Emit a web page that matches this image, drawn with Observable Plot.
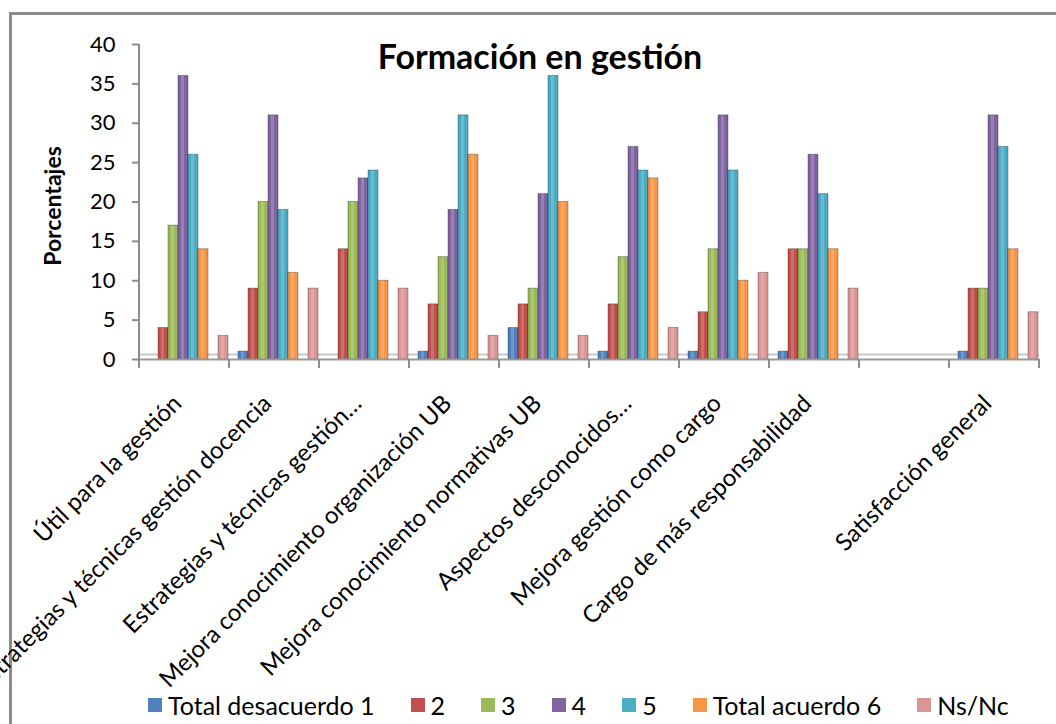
<!DOCTYPE html>
<html>
<head>
<meta charset="utf-8">
<script src="https://cdn.jsdelivr.net/npm/d3@7"></script>
<script src="https://cdn.jsdelivr.net/npm/@observablehq/plot@0.6"></script>
<style>
  html, body { margin: 0; padding: 0; background: #fff; }
  #wrap { position: relative; width: 1056px; height: 724px; overflow: hidden; font-family: Lato, "Open Sans", sans-serif; color: #000; }
  #border { position: absolute; left: 9px; top: 12px; width: 1200px; height: 900px; border: 3px solid #8c8c8c; box-sizing: border-box; }
  #chart { position: absolute; left: 0; top: 0; }
  #title { position: absolute; left: 0; width: 1080px; top: 34px; text-align: center; font-weight: 700; font-size: 34px; line-height: 44px; }
  #ylabel { position: absolute; left: 52px; top: 206px; transform: translate(-50%, -50%) rotate(-90deg); font-weight: 700; font-size: 23px; white-space: nowrap; }
  #legend { position: absolute; left: 148px; top: 689px; width: max-content; display: flex; flex-wrap: nowrap; align-items: center; font-size: 25px; line-height: 32px; white-space: nowrap; }
  #legend .item { display: flex; align-items: center; margin-right: 36px; flex-shrink: 0; }
  #legend .item:last-child { margin-right: 0; }
  #legend .sw { width: 14px; height: 14px; margin-right: 6px; flex-shrink: 0; }
</style>
</head>
<body>
<div id="wrap">
  <div id="border"></div>
  <div id="chart"></div>
  <div id="title">Formación en gestión</div>
  <div id="ylabel">Porcentajes</div>
  <div id="legend"></div>
</div>
<script>
// ---- Data ----
const categories = [
  "Útil para la gestión",
  "Estrategias y técnicas gestión docencia",
  "Estrategias y técnicas gestión…",
  "Mejora conocimiento organización UB",
  "Mejora conocimiento normativas UB",
  "Aspectos desconocidos…",
  "Mejora gestión como cargo",
  "Cargo de más responsabilidad",
  "",
  "Satisfacción general"
];
const series = ["Total desacuerdo 1", "2", "3", "4", "5", "Total acuerdo 6", "Ns/Nc"];
const colors = ["#4F81BD", "#C0504D", "#9BBB59", "#8064A2", "#4BACC6", "#F79646", "#D99694"];

const totalDesacuerdo1 = [0, 1, 0, 1, 4, 1, 1, 1, null, 1];
const valores2         = [4, 9, 14, 7, 7, 7, 6, 14, null, 9];
const valores3         = [17, 20, 20, 13, 9, 13, 14, 14, null, 9];
const valores4         = [36, 31, 23, 19, 21, 27, 31, 26, null, 31];
const valores5         = [26, 19, 24, 31, 36, 24, 24, 21, null, 27];
const totalAcuerdo6    = [14, 11, 10, 26, 20, 23, 10, 14, null, 14];
const nsNc             = [3, 9, 9, 3, 3, 4, 11, 9, null, 6];

const yTicks = [0, 5, 10, 15, 20, 25, 30, 35, 40];

// ---- Build table (the blank slot keeps null rows so its facet is not empty) ----
const seriesValues = [totalDesacuerdo1, valores2, valores3, valores4, valores5, totalAcuerdo6, nsNc];
const data = [];
categories.forEach((c, i) => {
  series.forEach((s, j) => {
    data.push({category: c, series: s, value: seriesValues[j][i]});
  });
});
// slot order inside each category (Ns/Nc sits after a small gap as in the original)
const xDomain = [...series.slice(0, 6), " ", "Ns/Nc"];

const chart = Plot.plot({
  width: 1056,
  height: 724,
  marginLeft: 137,
  marginRight: 16,
  marginTop: 44,
  marginBottom: 365,
  style: {fontFamily: "Lato, 'Open Sans', sans-serif", fontSize: "24px", color: "#000", background: "transparent"},
  fx: {domain: categories, padding: 0, label: null, axis: null},
  x: {domain: xDomain, paddingInner: 0.04, paddingOuter: 0.45, align: 0.85, axis: null},
  y: {domain: [0, 40], ticks: yTicks, label: null, axis: null},
  color: {domain: series, range: colors},
  marks: [
    Plot.ruleY([0], {dy: -5, stroke: "#c8c8c8", strokeWidth: 2}),
    Plot.barY(data, {fx: "category", x: "series", y: "value", fill: "series", stroke: "#000", strokeOpacity: 0.3, strokeWidth: 1}),
    Plot.barY(data, {fx: "category", x: "series", y: "value", fill: "#fff", fillOpacity: 0.18, insetLeft: 3, insetRight: 4}),
    Plot.ruleY([0], {stroke: "#999", strokeWidth: 2}),
    Plot.axisFx({domain: categories, anchor: "bottom", tickRotate: -45, tickSize: 0, tickPadding: 40, dx: -7, label: null}),
    Plot.axisY(yTicks, {facetAnchor: "left-empty", anchor: "left", tickSize: 7, tickPadding: 17, fontSize: 22, stroke: "#8c8c8c", strokeWidth: 2, label: null})
  ]
});
document.getElementById("chart").appendChild(chart);

// y axis line and category boundary ticks, placed with the library's scales
const fx = chart.scale("fx");
const y = chart.scale("y");
const y0 = y.apply(0);
const yTop = y.apply(40);
const bounds = categories.map(c => fx.apply(c)).concat([fx.apply(categories[categories.length - 1]) + fx.bandwidth]);
const g = d3.select(chart).append("g").attr("stroke", "#8c8c8c").attr("stroke-width", 2);
g.append("line").attr("x1", bounds[0]).attr("x2", bounds[0]).attr("y1", yTop).attr("y2", y0);
g.selectAll("line.b").data(bounds).join("line").attr("class", "b")
  .attr("x1", d => d).attr("x2", d => d)
  .attr("y1", y0).attr("y2", y0 + 9);

// legend
const legend = d3.select("#legend");
series.forEach((s, i) => {
  const it = legend.append("div").attr("class", "item");
  it.append("div").attr("class", "sw").style("background", colors[i]);
  it.append("span").text(s);
});
</script>
</body>
</html>
